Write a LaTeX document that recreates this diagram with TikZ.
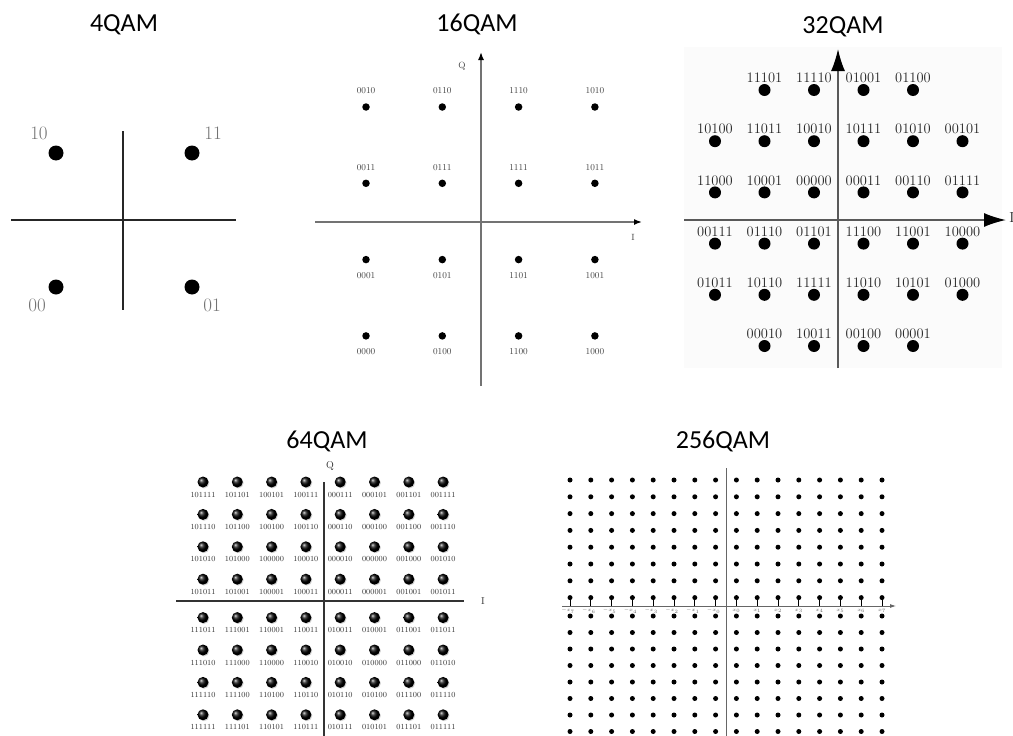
\documentclass[tikz,border=0pt]{standalone}
\usepackage{fontspec}
\newfontfamily\headfont{Carlito}
\usetikzlibrary{arrows.meta,shadows}

\tikzset{
  qamtitle/.style={font=\headfont\fontsize{26}{30}\selectfont, anchor=base, inner sep=0pt},
  dot4/.style={circle, fill=black, inner sep=0pt, minimum size=15pt},
  dot16/.style={circle, fill=black, inner sep=0pt, minimum size=7.5pt},
  dot32/.style={circle, fill=black, inner sep=0pt, minimum size=12pt},
  dot64/.style={circle, inner sep=0pt, minimum size=11pt, shading=ball, ball color=black,
    drop shadow={shadow xshift=0.9pt, shadow yshift=-0.9pt, opacity=0.35}},
  dot256/.style={circle, fill=black, inner sep=0pt, minimum size=5pt},
  lab4/.style={font=\fontsize{19}{22}\selectfont, text=black!55, inner sep=0pt},
  lab16/.style={font=\fontsize{9}{10}\selectfont, text=black!75, inner sep=0pt},
  lab32/.style={font=\fontsize{14.5}{16}\selectfont, text=black!85, inner sep=0pt},
  lab64/.style={font=\fontsize{7.8}{9}\selectfont, text=black!80, inner sep=0pt},
  lab256/.style={font=\fontsize{5}{6}\selectfont, text=black!60, inner sep=0pt},
  axis16/.style={line width=1.5pt, black!55, -{Latex[length=8pt,width=6pt,black]}},
  axis32/.style={line width=1.5pt, black!65, -{Latex[length=22pt,width=14pt,black]}},
  axis64/.style={line width=2pt, black!80}
}

\begin{document}
\begin{tikzpicture}[x=1pt, y=-1pt]
\useasboundingbox (0,0) rectangle (1013,736);

% titles
\node[qamtitle] (t4) at (124,31) {4QAM};
\node[qamtitle] (t16) at (477,31) {16QAM};
\node[qamtitle] (t32) at (843,33) {32QAM};
\node[qamtitle] (t64) at (327,448) {64QAM};
\node[qamtitle] (t256) at (723,448) {256QAM};

% 4QAM
\draw[line width=2pt, black!85] (11,220) -- (236,220);
\draw[line width=2pt, black!85] (123,131) -- (123,310);
\foreach \x/\y/\lab/\lx/\ly in {56/153/10/39/133, 192/153/11/213/133,
                                56/287/00/37/305, 192/287/01/212/305} {
  \node[dot4] (d4-\lab) at (\x,\y) {};
  \node[lab4] (l4-\lab) at (\lx,\ly) {\lab};
}

% 16QAM
\draw[axis16] (315,222) -- (642,222);
\draw[axis16] (481,386) -- (481,52);
\node[lab16] (q16) at (462,66) {Q};
\node[lab16] (i16) at (633,237) {I};
\foreach \lab [count=\i from 0] in {0010,0110,1110,1010,0011,0111,1111,1011,
                                   0001,0101,1101,1001,0000,0100,1100,1000} {
  \pgfmathtruncatemacro\c{mod(\i,4)}
  \pgfmathtruncatemacro\r{div(\i,4)}
  \pgfmathsetmacro\off{\r<2 ? -16 : 16}
  \node[dot16] (d16-\lab) at ({366+76.3*\c},{107+76.3*\r}) {};
  \node[lab16] (l16-\lab) at ({366+76.3*\c},{107+76.3*\r+\off}) {\lab};
}

% 32QAM
\fill[gray!3] (684,47) rectangle (1002,368);
\draw[axis32] (684,220) -- (1006,220);
\draw[axis32] (838,368) -- (838,49);
\node[lab32] (i32) at (1012,218) {I};
\foreach \r/\f/\labs in {0/1/{11101,11110,01001,01100},
                         1/0/{10100,11011,10010,10111,01010,00101},
                         2/0/{11000,10001,00000,00011,00110,01111},
                         3/0/{00111,01110,01101,11100,11001,10000},
                         4/0/{01011,10110,11111,11010,10101,01000},
                         5/1/{00010,10011,00100,00001}} {
  \foreach \lab [count=\c from \f] in \labs {
    \node[dot32] (d32-\lab) at ({715+49.5*\c},{90+51.2*\r}) {};
    \node[lab32] (l32-\lab) at ({715+49.5*\c},{78+51.2*\r}) {\lab};
  }
}

% 64QAM
\draw[axis64] (176,601) -- (464,601);
\draw[axis64] (324,482) -- (324,736);
\node[lab64, font=\fontsize{10}{12}\selectfont] (q64) at (330,466) {Q};
\node[lab64, font=\fontsize{10}{12}\selectfont] (i64) at (483,601) {I};
\foreach \r/\labs in {0/{101111,101101,100101,100111,000111,000101,001101,001111},
                      1/{101110,101100,100100,100110,000110,000100,001100,001110},
                      2/{101010,101000,100000,100010,000010,000000,001000,001010},
                      3/{101011,101001,100001,100011,000011,000001,001001,001011},
                      4/{111011,111001,110001,110011,010011,010001,011001,011011},
                      5/{111010,111000,110000,110010,010010,010000,011000,011010},
                      6/{111110,111100,110100,110110,010110,010100,011100,011110},
                      7/{111111,111101,110101,110111,010111,010101,011101,011111}} {
  \pgfmathsetmacro\yy{482+32.4*\r+(\r>3 ? 6 : 0)}
  \foreach \lab [count=\c from 0] in \labs {
    \node[dot64] (d64-\lab) at ({203+34.3*\c},\yy) {};
    \node[lab64] (l64-\lab) at ({203+34.3*\c},\yy+12.5) {\lab};
  }
}

% 256QAM
\draw[line width=0.8pt, black!60] (726,468) -- (726,736);
\draw[line width=0.8pt, black!60, -{Latex[length=6pt,width=4pt]}] (562,606) -- (896,606);
\foreach \c in {0,...,15} {
  \foreach \r in {0,...,15} {
    \pgfmathsetmacro\yy{\r<8 ? 480+16.8*\r : 616+16.5*(\r-8)}
    \node[dot256] (d256-\c-\r) at ({570+20.8*\c},\yy) {};
  }
  \draw[line width=0.8pt] (d256-\c-7) -- (d256-\c-7 |- 0,606);
  \pgfmathtruncatemacro\k{\c<8 ? 7-\c : \c-8}
  \ifnum\c<8
    \node[lab256] (x256-\c) at ({568+20.8*\c},611) {$-x_{\k}$};
  \else
    \node[lab256] (x256-\c) at ({570+20.8*\c},611) {$x_{\k}$};
  \fi
}
\end{tikzpicture}
\end{document}
